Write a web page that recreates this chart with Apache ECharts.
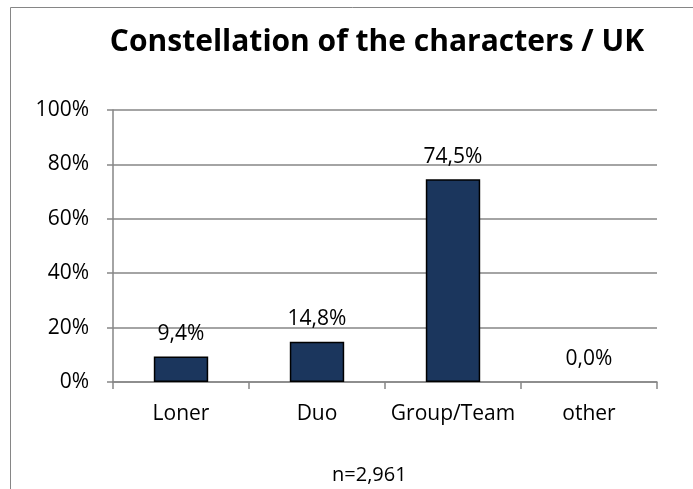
<!DOCTYPE html>
<html>
<head>
<meta charset="utf-8">
<script src="https://cdn.jsdelivr.net/npm/echarts@6/dist/echarts.min.js"></script>
<style>
  html, body { margin: 0; padding: 0; background: #fff; }
  #chart { width: 693px; height: 489px; }
</style>
</head>
<body>
<div id="chart"></div>
<script>
// data
var categories = ['Loner', 'Duo', 'Group/Team', 'other'];
var shares = [9.4, 14.8, 74.5, 0.0];
var yTicks = [0, 20, 40, 60, 80, 100];
var titleText = 'Constellation of the characters / UK';
var noteText = 'n=2,961';

var chart = echarts.init(document.getElementById('chart'));
var font = '"Open Sans", "DejaVu Sans", sans-serif';

// zero bars show no outline in the original
var barData = shares.map(function (v) {
    return v === 0 ? { value: v, itemStyle: { borderWidth: 0 } } : v;
});

var option = {
    animation: false,
    title: {
        text: titleText,
        left: 372,
        top: 22,
        textAlign: 'center',
        textStyle: { fontFamily: font, fontSize: 30, fontWeight: 'bold', color: '#000' }
    },
    graphic: [
        { type: 'rect', shape: { x: 10.5, y: 7.5, width: 720, height: 520 },
          style: { fill: 'none', stroke: '#868686', lineWidth: 1 }, silent: true },
        { type: 'text', left: 332, top: 465,
          style: { text: noteText, fontFamily: font, fontSize: 20, fill: '#000' } }
    ],
    grid: { left: 113, right: 36, top: 110, bottom: 107 },
    xAxis: {
        type: 'category',
        data: categories,
        axisLine: { lineStyle: { color: '#868686', width: 1.5 } },
        axisTick: { show: true, length: 7, lineStyle: { color: '#868686', width: 1.5 } },
        axisLabel: { fontFamily: font, fontSize: 21, color: '#000', margin: 22, interval: 0 }
    },
    yAxis: {
        type: 'value',
        min: yTicks[0],
        max: yTicks[yTicks.length - 1],
        interval: 20,
        axisLine: { show: true, lineStyle: { color: '#868686', width: 1.5 } },
        axisTick: { show: true, length: 6, lineStyle: { color: '#868686', width: 1.5 } },
        splitLine: { lineStyle: { color: '#868686', width: 1.5 } },
        axisLabel: {
            fontFamily: font, fontSize: 21, color: '#000', margin: 24,
            formatter: function (v) { return v + '%'; }
        }
    },
    series: [{
        type: 'bar',
        data: barData,
        barWidth: '40%',
        itemStyle: { color: '#1b365d', borderColor: '#000', borderWidth: 1.5 },
        label: {
            show: true,
            position: 'top',
            distance: 12,
            fontFamily: font, fontSize: 21, color: '#000',
            formatter: function (p) { return p.value.toFixed(1).replace('.', ',') + '%'; }
        }
    }]
};
chart.setOption(option);
</script>
</body>
</html>
